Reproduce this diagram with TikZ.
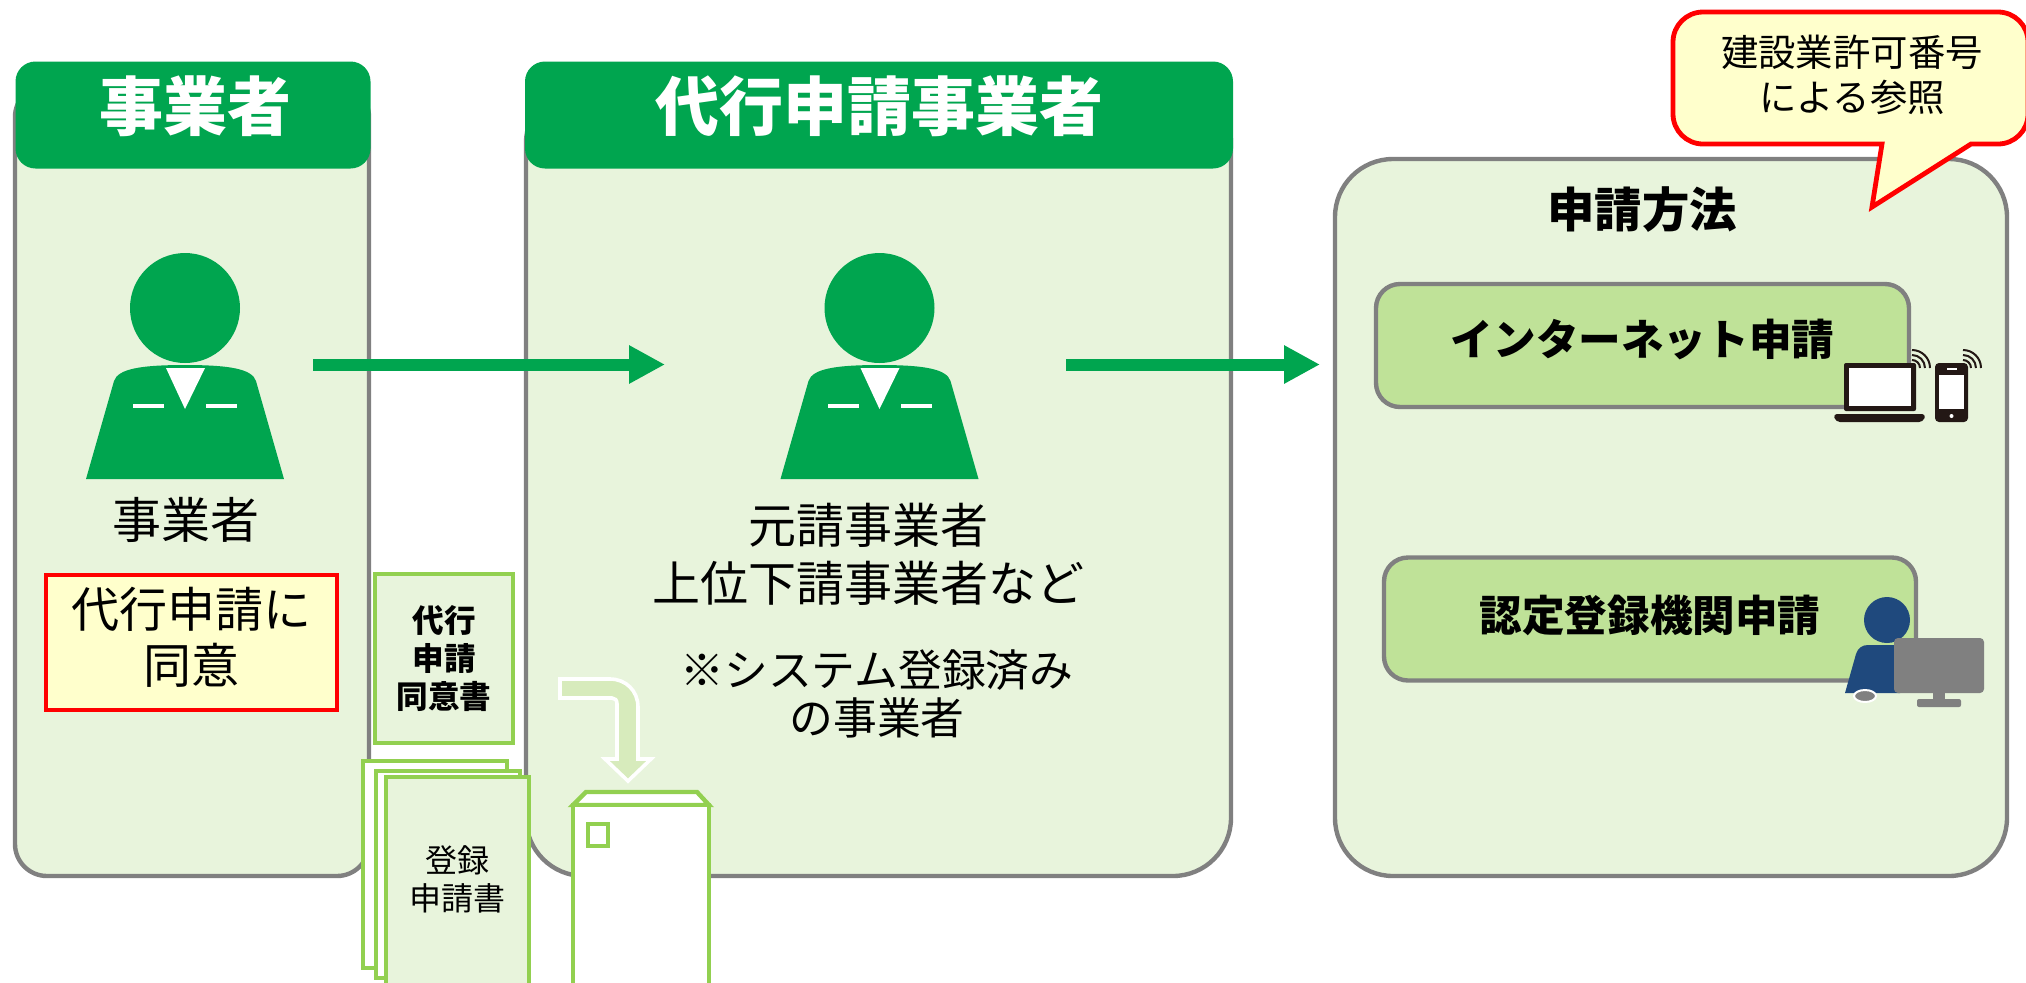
\documentclass[tikz,border=0pt]{standalone}
\usepackage{fontspec}
\setmainfont{Noto Sans CJK JP}
\usetikzlibrary{arrows.meta}

\definecolor{verde}{HTML}{00A54F}
\definecolor{verdeclaro}{HTML}{E8F4DC}
\definecolor{verdemedio}{HTML}{BFE298}
\definecolor{verdedoc}{HTML}{92D050}
\definecolor{verdeflecha}{HTML}{D7EBBC}
\definecolor{amarillo}{HTML}{FFFFCC}
\definecolor{gris}{HTML}{808080}
\definecolor{azul}{HTML}{1F497D}
\definecolor{negro}{HTML}{231815}

\tikzset{
  panel/.style={draw=gris, line width=2.2pt, fill=verdeclaro},
  headbox/.style={fill=verde, text=white, rounded corners=10pt, inner sep=0pt, font=\fontsize{32}{37}\selectfont\bfseries},
  metodo/.style={draw=gris, line width=2.2pt, fill=verdemedio, rounded corners=12pt, inner sep=0pt, font=\fontsize{21.3}{25}\selectfont\bfseries},
  redbox/.style={draw=red, line width=2.2pt, fill=amarillo, inner sep=0pt},
  doc/.style={draw=verdedoc, line width=2.2pt, fill=#1},
  texto/.style={align=center, inner sep=0pt, font=\fontsize{24.5}{28}\selectfont},
  flecha/.style={draw=verde, line width=6pt, -{Triangle[length=18pt,width=18pt]}}
}

% Figura de persona con corbata
\newcommand{\persona}{
  \fill[verde] (185,308) circle (27.5pt);
  \fill[verde] (86,479) -- (114,381) .. controls (118,369) and (140,365) .. (185,365)
    .. controls (230,365) and (252,369) .. (256,381) -- (284,479) -- cycle;
  \fill[white] (166,368) -- (205,368) -- (185,409) -- cycle;
  \fill[white] (133,404) rectangle (164,408);
  \fill[white] (206,404) rectangle (237,408);
}

\begin{document}
\begin{tikzpicture}[x=0.5pt,y=-0.5pt]
    \useasboundingbox (0,0) rectangle (2026,982);
    \clip (0,0) rectangle (2026,982);

    % Paneles de fondo
    \draw[panel, rounded corners=16pt] (15,85) rectangle (369,876);
    \draw[panel, rounded corners=29pt] (526,85) rectangle (1231,876);
    \draw[panel, rounded corners=29pt] (1335,159) rectangle (2007,876);

    % Cabeceras
    \node[headbox, minimum width=177.5pt, minimum height=53.5pt] (headA) at (193,115) {\raisebox{12pt}{\hspace*{2pt}事業者}};
    \node[headbox, minimum width=354pt, minimum height=53.5pt] (headB) at (879,115) {\raisebox{12pt}{代行申請事業者}};

    % Personas
    \persona
    \begin{scope}[shift={(694.5,0)}]
      \persona
    \end{scope}

    % Textos de los paneles
    \node[texto] (labelA) at (186,520) {事業者};
    \node[redbox, minimum width=145.5pt, minimum height=67.5pt] (consent) at (191.5,642.5) {};
    \node[texto, font=\fontsize{24}{28}\selectfont] (consenttext) at (191.5,637) {代行申請に\\同意};
    \node[texto, font=\fontsize{24}{29}\selectfont] (labelB) at (868,554) {元請事業者\\上位下請事業者など};
    \node[texto, font=\fontsize{21.9}{24}\selectfont] (noteB) at (877,694) {※システム登録済み\\の事業者};
    \node[texto, font=\fontsize{23.7}{28}\selectfont\bfseries] (titleC) at (1642,210) {申請方法};

    % Flechas entre paneles
    \coordinate (startA) at (313,364.5);
    \coordinate (endA) at (665,364.5);
    \coordinate (startB) at (1066,364.5);
    \coordinate (endB) at (1320,364.5);
    \draw[flecha] (startA) -- (endA);
    \draw[flecha] (startB) -- (endB);

    % Metodos de solicitud
    \node[metodo, minimum width=266.5pt, minimum height=61.5pt] (internet) at (1642.5,345.5) {\raisebox{7.8pt}{インターネット申請}};
    \node[metodo, minimum width=266pt, minimum height=61.5pt] (agency) at (1650,619) {\raisebox{5.3pt}{認定登録機関申請}};

    % Portatil
    \fill[negro, rounded corners=1pt] (1844,363) rectangle (1916,411);
    \fill[white] (1849,368) rectangle (1911,406);
    \fill[negro, rounded corners=2pt] (1833,414) -- (1926,414) -- (1923,422) -- (1836,422) -- cycle;

    % Telefono
    \fill[negro, rounded corners=2pt] (1935,363) rectangle (1968,422);
    \fill[white] (1939,375) rectangle (1964,409);
    \fill[white] (1947,368) rectangle (1957,370);
    \fill[white] (1951.5,416) circle (1pt);

    % Ondas wifi
    \draw[negro, line width=1pt] (1912,360) arc (-90:0:8);
    \draw[negro, line width=1pt] (1912,355) arc (-90:0:13);
    \draw[negro, line width=1pt] (1912,350) arc (-90:0:18);
    \draw[negro, line width=1pt] (1963,360) arc (-90:0:8);
    \draw[negro, line width=1pt] (1963,355) arc (-90:0:13);
    \draw[negro, line width=1pt] (1963,350) arc (-90:0:18);

    % Operador con monitor
    \fill[azul] (1887,620) circle (11.5pt);
    \fill[azul] (1845,693) -- (1856,654) .. controls (1858,648) and (1862,645) .. (1868,645) -- (1900,645) -- (1900,693) -- cycle;
    \fill[gris, rounded corners=2pt] (1894,638) rectangle (1984,693);
    \fill[gris] (1933,693) rectangle (1945,699);
    \fill[gris, rounded corners=1pt] (1917,699) rectangle (1961,707);
    \draw[white, fill=gris, line width=1pt] (1865,696) ellipse (11 and 6);

    % Aviso
    \draw[draw=red, line width=2.4pt, fill=amarillo] (1882,144) -- (1872,207) -- (1971,144)
      [rounded corners=15pt] -- (2028,144) -- (2028,12) -- (1673,12) -- (1673,144) [sharp corners] -- cycle;
    \node[texto, font=\fontsize{18.7}{22.5}\selectfont] (callout) at (1852,75) {建設業許可番号\\による参照};

    % Documento de consentimiento
    \node[doc=verdeclaro, minimum width=69pt, minimum height=84.5pt, inner sep=0pt, align=center,
      font=\fontsize{15.8}{19}\selectfont\bfseries] (consentdoc) at (444,658.5) {代行\\申請\\同意書};

    % Hojas de la solicitud
    \draw[doc=white] (363,761) rectangle (507,968);
    \draw[doc=white] (376,771) rectangle (520,978);
    \draw[doc=verdeclaro] (386,777) rectangle (529,1000);
    \node[texto, font=\fontsize{16}{19}\selectfont] (regdoc) at (457,879) {登録\\申請書};

    % Sobre
    \draw[doc=white] (573,805) -- (586,792) -- (697,792) -- (709,805) -- cycle;
    \draw[doc=white] (573,805) rectangle (709,1000);
    \draw[doc=white] (588,824) rectangle (608,846);

    % Flecha doblada
    \draw[white, fill=verdeflecha, line width=1.8pt] (560,679) -- (610,679) .. controls (626,679) and (638,691) .. (638,707)
      -- (638,759) -- (651,759) -- (628,781) -- (605,759) -- (617,759) -- (617,704) .. controls (617,700) and (615,698) .. (612,698) -- (560,698) -- cycle;

\end{tikzpicture}
\end{document}
